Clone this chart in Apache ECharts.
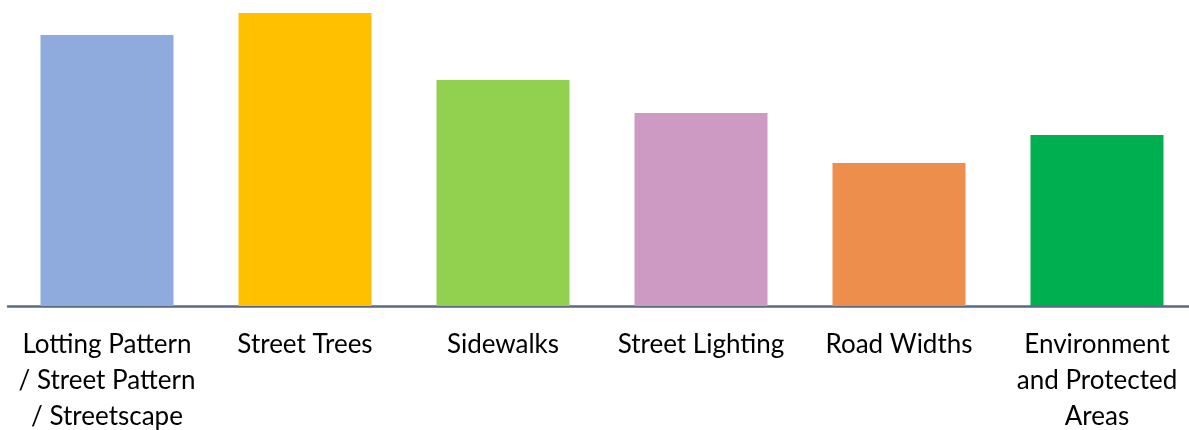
<!DOCTYPE html>
<html>
<head>
<meta charset="utf-8">
<script src="https://cdn.jsdelivr.net/npm/echarts@6/dist/echarts.min.js"></script>
<style>
html,body{margin:0;padding:0;background:#fff;}
#chart{width:1189px;height:430px;}
</style>
</head>
<body>
<div id="chart"></div>
<script>
var categories = [
  "Lotting Pattern\n/ Street Pattern\n/ Streetscape",
  "Street Trees",
  "Sidewalks",
  "Street Lighting",
  "Road Widths",
  "Environment\nand Protected\nAreas"
];
var values = [92.5, 100, 77.1, 65.9, 48.8, 58.4];
var colors = ["#8faadc", "#ffc000", "#92d050", "#cc9ac2", "#ee8e4c", "#00b050"];

var chart = echarts.init(document.getElementById('chart'));
chart.setOption({
  animation: false,
  grid: { left: 8, top: 13, width: 1188, height: 293, containLabel: false, outerBoundsMode: 'none' },
  xAxis: {
    type: 'category',
    data: categories,
    axisLine: { show: true, lineStyle: { color: '#5a6a82', width: 2.5 } },
    axisTick: { show: false },
    axisLabel: {
      interval: 0,
      color: '#000',
      fontFamily: 'Lato',
      fontSize: 26,
      lineHeight: 36,
      margin: 21,
      align: 'center'
    }
  },
  yAxis: {
    type: 'value', min: 0, max: 100, show: false,
    splitLine: { show: false }
  },
  series: [{
    type: 'bar',
    barWidth: 133,
    data: values.map(function (v, i) { return { value: v, itemStyle: { color: colors[i] } }; })
  }]
});
</script>
</body>
</html>
